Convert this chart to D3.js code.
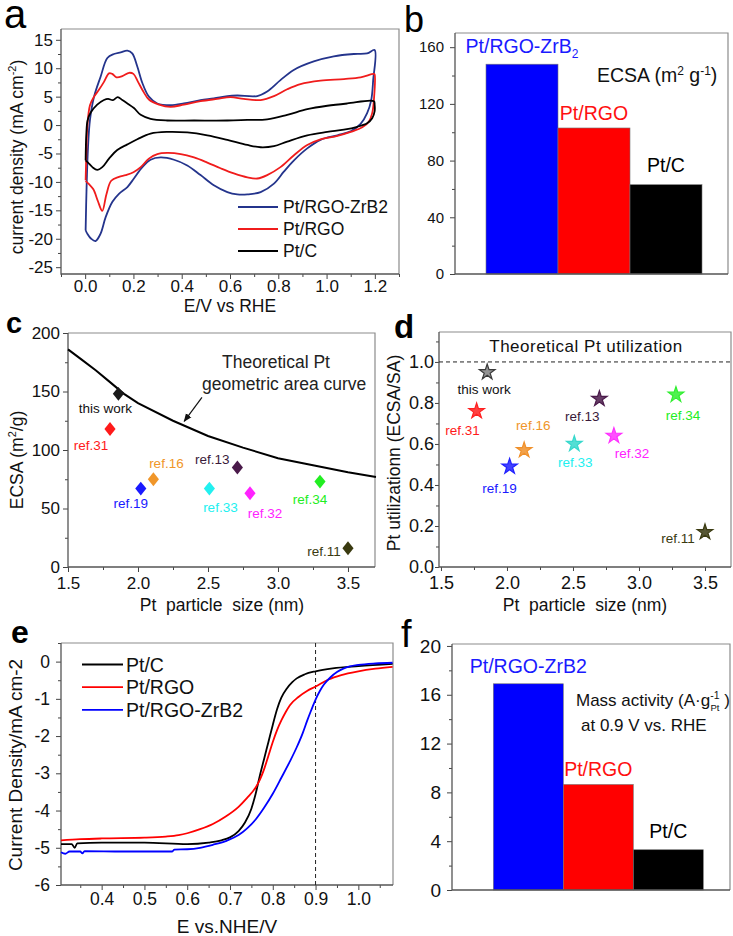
<!DOCTYPE html>
<html><head><meta charset="utf-8">
<script src="https://cdn.jsdelivr.net/npm/d3@7"></script>
<style>html,body{margin:0;padding:0;background:#fff;} svg{display:block;}</style>
</head><body>
<svg id="fig" width="733" height="936"></svg>
<script>
// ================= DATA =================
// (a) cyclic voltammograms: [E (V vs RHE), j (mA cm^-2)] anodic branch then cathodic branch
const cvSeriesNames = ["Pt/RGO-ZrB2", "Pt/RGO", "Pt/C"];
const cvZrB2 = [[0.002,-18.5],[0.006,-10.9],[0.012,-3.8],[0.020,0.9],[0.037,5.0],[0.064,8.5],[0.092,11.8],[0.119,12.5],[0.147,12.8],[0.175,13.1],[0.195,12.6],[0.216,10.3],[0.237,7.4],[0.264,5.0],[0.299,3.8],[0.354,3.5],[0.409,3.8],[0.478,4.4],[0.533,4.7],[0.589,5.1],[0.630,5.2],[0.713,5.1],[0.754,5.9],[0.809,7.9],[0.864,9.7],[0.947,11.2],[1.030,12.1],[1.113,12.5],[1.168,12.6],[1.199,13.2],
  [1.193,7.9],[1.185,4.4],[1.168,2.1],[1.141,0.2],[1.100,-1.1],[1.045,-1.8],[0.975,-2.6],[0.920,-4.1],[0.865,-6.2],[0.823,-8.2],[0.782,-10.3],[0.727,-11.8],[0.672,-12.2],[0.630,-12.2],[0.589,-11.8],[0.533,-10.6],[0.478,-8.8],[0.423,-7.1],[0.368,-6.1],[0.313,-5.7],[0.271,-6.1],[0.237,-7.4],[0.202,-9.4],[0.175,-10.9],[0.140,-12.1],[0.113,-13.5],[0.085,-16.2],[0.064,-19.1],[0.043,-20.4],[0.025,-20.0],[0.009,-19.1],[0.002,-18.5]];
const cvRGO = [[0.002,-9.7],[0.005,-5.0],[0.009,-0.3],[0.020,3.5],[0.037,5.0],[0.057,6.2],[0.078,7.6],[0.099,9.1],[0.112,9.0],[0.130,8.4],[0.154,8.6],[0.182,9.2],[0.200,9.0],[0.219,7.6],[0.241,5.9],[0.264,4.5],[0.306,3.6],[0.354,3.2],[0.409,3.6],[0.478,4.2],[0.547,4.6],[0.602,4.9],[0.657,4.6],[0.727,4.4],[0.782,5.1],[0.837,6.3],[0.892,7.2],[0.975,7.8],[1.072,8.1],[1.141,8.4],[1.196,9.0],
  [1.199,8.9],[1.196,4.4],[1.189,2.1],[1.175,0.6],[1.148,-0.4],[1.100,-1.2],[1.045,-1.9],[0.975,-2.5],[0.920,-3.5],[0.865,-5.3],[0.809,-7.4],[0.754,-8.8],[0.713,-9.4],[0.672,-9.2],[0.616,-8.5],[0.561,-7.6],[0.506,-6.6],[0.451,-5.7],[0.396,-5.1],[0.340,-4.9],[0.299,-5.1],[0.264,-5.9],[0.230,-7.4],[0.200,-8.3],[0.168,-8.8],[0.140,-9.1],[0.108,-9.8],[0.088,-12.2],[0.071,-15.1],[0.053,-13.4],[0.034,-11.3],[0.016,-10.4],[0.002,-9.8]];
const cvPtC = [[0.002,-6.2],[0.005,-1.5],[0.010,0.8],[0.023,2.2],[0.050,3.6],[0.078,4.4],[0.095,4.6],[0.115,4.4],[0.135,4.9],[0.154,4.4],[0.175,3.8],[0.202,3.0],[0.230,1.8],[0.271,1.1],[0.340,0.8],[0.451,0.8],[0.589,0.8],[0.672,0.9],[0.754,1.0],[0.837,1.8],[0.920,2.8],[1.003,3.4],[1.086,3.8],[1.196,4.2],
  [1.199,3.6],[1.199,2.4],[1.189,1.2],[1.168,0.3],[1.127,-0.3],[1.072,-0.8],[1.003,-1.2],[0.920,-1.8],[0.837,-2.9],[0.782,-3.7],[0.727,-3.9],[0.672,-3.5],[0.589,-2.6],[0.506,-1.8],[0.423,-1.3],[0.340,-1.2],[0.271,-1.5],[0.216,-2.5],[0.175,-3.4],[0.133,-4.4],[0.099,-5.9],[0.071,-7.4],[0.050,-7.9],[0.030,-7.4],[0.012,-6.6],[0.002,-6.2]];
const cvXTicks = [0, 0.2, 0.4, 0.6, 0.8, 1.0, 1.2];
const cvYTicks = [-25, -20, -15, -10, -5, 0, 5, 10, 15];

// (b) ECSA bars
const catalysts = ["Pt/RGO-ZrB2", "Pt/RGO", "Pt/C"];
const ecsaValues = [148, 103, 63];
const ecsaTicks = [0, 40, 80, 120, 160];

// (c),(d) literature comparison
const refNames = ["this work", "ref.31", "ref.19", "ref.16", "ref.33", "ref.13", "ref.32", "ref.34", "ref.11"];
const refSizeC = [1.86, 1.80, 2.02, 2.11, 2.51, 2.71, 2.80, 3.30, 3.50];
const refEcsaC = [148, 118, 67, 75, 67, 85, 63, 73, 16];
const theoSize = [1.5, 1.6, 1.7, 1.8, 1.9, 2.0, 2.25, 2.5, 2.75, 3.0, 3.25, 3.5, 3.7];
const theoEcsa = [186, 177, 168, 158, 148, 140, 125, 112, 102, 93, 87, 81, 77];
const sizeTicks = [1.5, 2.0, 2.5, 3.0, 3.5];
const ecsaCTicks = [0, 50, 100, 150, 200];
const refSizeD = [1.85, 1.77, 2.02, 2.13, 2.51, 2.70, 2.81, 3.28, 3.50];
const refUtilD = [0.95, 0.76, 0.49, 0.57, 0.60, 0.82, 0.64, 0.84, 0.17];
const utilTicks = [0.0, 0.2, 0.4, 0.6, 0.8, 1.0];

// (e) ORR polarization curves: [E (V), j (mA cm^-2)]
const lsvSeriesNames = ["Pt/C", "Pt/RGO", "Pt/RGO-ZrB2"];
const lsvPtC = [[0.305,-4.90],[0.33,-4.90],[0.337,-5.0],[0.343,-4.88],[0.40,-4.86],[0.50,-4.86],[0.60,-4.90],[0.65,-4.86],[0.68,-4.80],[0.70,-4.72],[0.72,-4.55],[0.735,-4.32],[0.75,-3.95],[0.76,-3.55],[0.77,-3.05],[0.78,-2.6],[0.79,-2.15],[0.80,-1.7],[0.81,-1.28],[0.82,-0.97],[0.833,-0.72],[0.845,-0.56],[0.856,-0.45],[0.875,-0.34],[0.90,-0.26],[0.94,-0.18],[1.00,-0.12],[1.08,-0.06]];
const lsvRGO = [[0.305,-4.80],[0.35,-4.77],[0.40,-4.75],[0.50,-4.73],[0.55,-4.70],[0.58,-4.66],[0.60,-4.61],[0.63,-4.50],[0.66,-4.36],[0.69,-4.16],[0.72,-3.90],[0.74,-3.66],[0.76,-3.38],[0.77,-3.17],[0.78,-2.88],[0.79,-2.52],[0.80,-2.16],[0.81,-1.84],[0.82,-1.58],[0.83,-1.36],[0.84,-1.17],[0.86,-0.95],[0.88,-0.79],[0.90,-0.67],[0.93,-0.48],[0.96,-0.36],[1.00,-0.26],[1.04,-0.19],[1.08,-0.14]];
const lsvZrB2 = [[0.305,-5.12],[0.315,-5.16],[0.325,-5.10],[0.35,-5.10],[0.355,-5.15],[0.36,-5.09],[0.45,-5.10],[0.565,-5.10],[0.57,-5.05],[0.60,-5.04],[0.63,-5.00],[0.66,-4.92],[0.69,-4.82],[0.72,-4.66],[0.74,-4.48],[0.76,-4.24],[0.78,-3.92],[0.80,-3.55],[0.82,-3.12],[0.84,-2.68],[0.856,-2.30],[0.87,-1.92],[0.88,-1.60],[0.89,-1.30],[0.90,-1.02],[0.91,-0.79],[0.92,-0.61],[0.935,-0.42],[0.95,-0.28],[0.965,-0.19],[0.98,-0.13],[1.00,-0.09],[1.04,-0.05],[1.08,-0.03]];
const lsvXTicks = [0.4, 0.5, 0.6, 0.7, 0.8, 0.9, 1.0];
const lsvYTicks = [-6, -5, -4, -3, -2, -1, 0];
const refPotential = 0.9;

// (f) mass activity bars
const massValues = [16.9, 8.65, 3.3];
const massTicks = [0, 4, 8, 12, 16, 20];

// ================= DRAWING =================
const FONT = "'Liberation Sans', Arial, Helvetica, sans-serif";
const svg = d3.select("#fig").style("font-family", FONT);
svg.append("rect").attr("width", 733).attr("height", 936).attr("fill", "#fff");

function minorBetween(ticks, step) {
  const out = [];
  for (let i = 0; i < ticks.length; i++) out.push(+(ticks[i] + step).toFixed(4));
  out.unshift(+(ticks[0] - step).toFixed(4));
  return out;
}

function frameAxes(o) {
  const g = svg.append("g");
  const [xl, xr] = o.frameX, [yb, yt] = o.frameY;
  g.append("path").attr("d", `M${xl},${yt}H${xr}V${yb}`).attr("fill", "none")
    .attr("stroke", "#8c8c8c").attr("stroke-width", 1.2);
  const tick = o.tick || 5;
  if (o.x) {
    const gx = g.append("g").attr("transform", `translate(0,${yb})`);
    if (o.xMinor) gx.append("g").call(d3.axisBottom(o.x).tickValues(o.xMinor.filter(v => o.x(v) >= xl - 0.5 && o.x(v) <= xr + 0.5)).tickSize(3).tickFormat("")).call(s => s.select(".domain").remove());
    gx.append("g").call(d3.axisBottom(o.x).tickValues(o.xMajor).tickSize(tick).tickPadding(o.xPad).tickFormat(o.xFmt)).call(s => s.select(".domain").remove());
    gx.selectAll("text").attr("font-size", o.fs).attr("font-family", FONT).attr("fill", "#111");
  }
  const gy = g.append("g").attr("transform", `translate(${xl},0)`);
  if (o.yMinor) gy.append("g").call(d3.axisLeft(o.y).tickValues(o.yMinor.filter(v => o.y(v) <= yb + 0.5 && o.y(v) >= yt - 0.5)).tickSize(3).tickFormat("")).call(s => s.select(".domain").remove());
  gy.append("g").call(d3.axisLeft(o.y).tickValues(o.yMajor).tickSize(tick).tickPadding(o.yPad).tickFormat(o.yFmt)).call(s => s.select(".domain").remove());
  gy.selectAll("text").attr("font-size", o.yfs || o.fs).attr("font-family", FONT).attr("fill", "#111");
  g.selectAll(".tick line").attr("stroke", "#444");
  g.append("path").attr("d", `M${xl},${yt}V${yb}H${xr}`).attr("fill", "none").attr("stroke", "#555").attr("stroke-width", 1.3);
  return g;
}

function rich(sel, parts, fs) {
  let cur = 0;
  parts.forEach(p => {
    const shift = p.shift || 0;
    const t = sel.append("tspan").text(p.t).attr("font-size", p.size || fs).attr("dy", shift - cur);
    if (p.dx) t.attr("dx", p.dx);
    cur = shift;
  });
  return sel;
}

function panelLetter(txt, x, y, fs, bold) {
  svg.append("text").attr("x", x).attr("y", y).attr("font-size", fs)
    .attr("font-weight", bold ? "bold" : "normal").attr("fill", "#000").text(txt);
}
const fmt1 = d3.format(".1f");
const fmtInt = d => String(d);

// ---------- (a) ----------
{
  const x = d3.scaleLinear().domain([-0.1, 1.3]).range([61, 399]);
  const y = d3.scaleLinear().domain([-26.2, 16.9]).range([274, 29]);
  frameAxes({ x, y, frameX: [61, 399], frameY: [274, 29], xMajor: cvXTicks, xMinor: minorBetween(cvXTicks, 0.1),
    yMajor: cvYTicks, yMinor: minorBetween(cvYTicks, 2.5), xFmt: fmt1, yFmt: fmtInt, fs: 17, xPad: 1, yPad: 3 });
  const line = d3.line().x(d => x(d[0])).y(d => y(d[1])).curve(d3.curveCatmullRom.alpha(0.5));
  const cols = ["#24348c", "#f01c1c", "#000000"];
  [cvZrB2, cvRGO, cvPtC].forEach((s, i) => {
    svg.append("path").datum(s).attr("d", line).attr("fill", "none").attr("stroke", cols[i]).attr("stroke-width", 1.8);
  });
  cvSeriesNames.forEach((n, i) => {
    const ly = 207 + i * 22;
    svg.append("line").attr("x1", 238).attr("x2", 278).attr("y1", ly).attr("y2", ly).attr("stroke", cols[i]).attr("stroke-width", 1.8);
    svg.append("text").attr("x", 283).attr("y", ly + 6).attr("font-size", 17.5).attr("fill", "#111").text(n);
  });
  svg.append("text").attr("x", 230).attr("y", 312).attr("text-anchor", "middle").attr("font-size", 17.5).attr("fill", "#111").text("E/V vs RHE");
  const yt = svg.append("text").attr("transform", "translate(23,157) rotate(-90)").attr("text-anchor", "middle").attr("font-size", 17.5).attr("fill", "#111");
  rich(yt, [{ t: "current density (mA cm" }, { t: "-2", shift: -7, size: 11 }, { t: ")" }], 17.5);
  panelLetter("a", 4, 28, 40, false);
}

// ---------- (b) ----------
const barColors = ["#0000ff", "#ff0000", "#000000"];
const barTextColors = ["#1a1aff", "#ff1010", "#000000"];
{
  const y = d3.scaleLinear().domain([0, 170]).range([274, 33]);
  const xb = d3.scaleBand().domain(catalysts).range([486, 702]).padding(0);
  svg.append("g").selectAll("rect").data(catalysts).join("rect")
    .attr("x", d => xb(d)).attr("width", xb.bandwidth())
    .attr("y", (d, i) => y(ecsaValues[i])).attr("height", (d, i) => y(0) - y(ecsaValues[i]))
    .attr("fill", (d, i) => barColors[i]).attr("stroke", "#777").attr("stroke-width", 0.6);
  frameAxes({ x: null, y, frameX: [455, 728], frameY: [274, 33], yMajor: ecsaTicks, yMinor: minorBetween(ecsaTicks, 20),
    yFmt: fmtInt, fs: 15, yPad: 6 });
  const offs = [11, 8, 13];
  catalysts.forEach((c, i) => {
    const t = svg.append("text").attr("x", xb(c) + xb.bandwidth() / 2).attr("y", y(ecsaValues[i]) - offs[i])
      .attr("text-anchor", "middle").attr("font-size", 19.5).attr("fill", barTextColors[i]);
    if (i === 0) rich(t, [{ t: "Pt/RGO-ZrB" }, { t: "2", shift: 5, size: 12 }], 19.5);
    else t.text(c);
  });
  const et = svg.append("text").attr("x", 597).attr("y", 82).attr("font-size", 19.5).attr("fill", "#111");
  rich(et, [{ t: "ECSA (m" }, { t: "2", shift: -7, size: 12 }, { t: " g" }, { t: "-1", shift: -7, size: 12 }, { t: ")" }], 19.5);
  panelLetter("b", 404, 32, 36, false);
}

// ---------- (c) ----------
const refColors = ["#1a1a1a", "#ff1a1a", "#1a1aff", "#f0962a", "#22f0f0", "#4a1a4a", "#ff22ff", "#22ee22", "#3a3a10"];
const refTextColors = ["#111111", "#ff1a1a", "#1a1aff", "#f0962a", "#22f0f0", "#3a1a3a", "#ff22ff", "#22ee22", "#3a3a10"];
const diamond = { draw(ctx, size) { const h = Math.sqrt(size) / 2 * 1.1, w = h * 0.8; ctx.moveTo(0, -h); ctx.lineTo(w, 0); ctx.lineTo(0, h); ctx.lineTo(-w, 0); ctx.closePath(); } };
{
  const x = d3.scaleLinear().domain([1.5, 3.693]).range([68, 375]);
  const y = d3.scaleLinear().domain([0, 200]).range([567, 333]);
  frameAxes({ x, y, frameX: [68, 375], frameY: [567, 333], xMajor: sizeTicks, xMinor: minorBetween(sizeTicks, 0.25),
    yMajor: ecsaCTicks, yMinor: minorBetween(ecsaCTicks, 25), xFmt: fmt1, yFmt: fmtInt, fs: 17, xPad: 5, yPad: 3 });
  const pts = theoSize.map((s, i) => [s, theoEcsa[i]]);
  svg.append("path").datum(pts).attr("d", d3.line().x(d => x(d[0])).y(d => y(d[1]))).attr("fill", "none").attr("stroke", "#000").attr("stroke-width", 2);
  refNames.forEach((n, i) => {
    svg.append("path").attr("d", d3.symbol(diamond, 160)()).attr("transform", `translate(${x(refSizeC[i])},${y(refEcsaC[i])})`)
      .attr("fill", refColors[i]);
  });
  const lo = [[-13, 19], [-19, 21], [-10, 19.5], [13, -11], [11, 23], [-25, -4], [15, 25], [-10, 22], [-24, 8]];
  refNames.forEach((n, i) => {
    svg.append("text").attr("x", x(refSizeC[i]) + lo[i][0]).attr("y", y(refEcsaC[i]) + lo[i][1])
      .attr("text-anchor", "middle").attr("font-size", 13.5).attr("fill", refTextColors[i]).text(n);
  });
  svg.append("text").attr("x", x(2.6)).attr("y", y(170)).attr("font-size", 17.5).attr("fill", "#222").text("Theoretical Pt");
  svg.append("text").attr("x", x(2.457)).attr("y", y(151)).attr("font-size", 17.5).attr("fill", "#222").text("geometric area curve");
  const defs = svg.append("defs");
  defs.append("marker").attr("id", "ah").attr("viewBox", "0 0 10 10").attr("refX", 9).attr("refY", 5)
    .attr("markerWidth", 7).attr("markerHeight", 7).attr("orient", "auto")
    .append("path").attr("d", "M0,1 L10,5 L0,9 z").attr("fill", "#111");
  svg.append("line").attr("x1", x(2.457)).attr("y1", y(145)).attr("x2", x(2.33)).attr("y2", y(124.5))
    .attr("stroke", "#111").attr("stroke-width", 1.2).attr("marker-end", "url(#ah)");
  svg.append("text").attr("x", 222).attr("y", 611).attr("text-anchor", "middle").attr("font-size", 17.5).attr("fill", "#111")
    .attr("xml:space", "preserve").text("Pt  particle  size (nm)");
  const yt = svg.append("text").attr("transform", "translate(23,460) rotate(-90)").attr("text-anchor", "middle").attr("font-size", 17.5).attr("fill", "#111");
  rich(yt, [{ t: "ECSA (m" }, { t: "2", shift: -7, size: 11 }, { t: "/g)" }], 17.5);
  panelLetter("c", 6, 333, 29, true);
}

// ---------- (d) ----------
const starColors = ["#3a3a3a", "#ff2020", "#2020ff", "#f0902a", "#36d8cc", "#4a1a4a", "#ff30ff", "#30ee30", "#3a3a10"];
{
  const x = d3.scaleLinear().domain([1.485, 3.697]).range([439, 731]);
  const y = d3.scaleLinear().domain([0, 1.146]).range([567, 332]);
  frameAxes({ x, y, frameX: [439, 731], frameY: [567, 332], xMajor: sizeTicks, xMinor: minorBetween(sizeTicks, 0.25),
    yMajor: utilTicks, yMinor: minorBetween(utilTicks, 0.1), xFmt: fmt1, yFmt: fmt1, fs: 18, xPad: 5, yPad: 1, tick: 4 });
  svg.append("line").attr("x1", 439).attr("x2", 731).attr("y1", y(1.0)).attr("y2", y(1.0))
    .attr("stroke", "#222").attr("stroke-width", 1).attr("stroke-dasharray", "4,3");
  svg.append("text").attr("x", 586).attr("y", 352).attr("text-anchor", "middle").attr("font-size", 17).attr("letter-spacing", 0.5)
    .attr("fill", "#111").text("Theoretical Pt utilization");
  refNames.forEach((n, i) => {
    svg.append("path").attr("d", d3.symbol(d3.symbolStar, 75)()).attr("transform", `translate(${x(refSizeD[i])},${y(refUtilD[i])})`)
      .attr("fill", starColors[i]).attr("fill-opacity", i === 0 ? 0.55 : 0.85).attr("stroke", starColors[i]).attr("stroke-width", 1.2);
  });
  const lo = [[-3, 22], [-14, 24], [-10, 26.5], [9, -20], [1, 23], [-17, 22], [18, 22], [7, 25], [-27, 11]];
  refNames.forEach((n, i) => {
    svg.append("text").attr("x", x(refSizeD[i]) + lo[i][0]).attr("y", y(refUtilD[i]) + lo[i][1])
      .attr("text-anchor", "middle").attr("font-size", 13.5).attr("fill", refTextColors[i]).text(n);
  });
  svg.append("text").attr("x", 585).attr("y", 611).attr("text-anchor", "middle").attr("font-size", 17.5).attr("fill", "#111")
    .attr("xml:space", "preserve").text("Pt  particle  size (nm)");
  svg.append("text").attr("transform", "translate(400,453) rotate(-90)").attr("text-anchor", "middle").attr("font-size", 17.5)
    .attr("fill", "#111").text("Pt utilizationn (ECSA/SA)");
  panelLetter("d", 394, 338, 33, true);
}

// ---------- (e) ----------
{
  const x = d3.scaleLinear().domain([0.305, 1.081]).range([61, 393]);
  const y = d3.scaleLinear().domain([-6, 0.5]).range([885, 643]);
  frameAxes({ x, y, frameX: [61, 393], frameY: [885, 643], xMajor: lsvXTicks, xMinor: minorBetween(lsvXTicks, 0.05),
    yMajor: lsvYTicks, yMinor: minorBetween(lsvYTicks, 0.5), xFmt: fmt1, yFmt: fmtInt, fs: 17.5, xPad: 3, yPad: 6 });
  svg.append("line").attr("x1", x(refPotential)).attr("x2", x(refPotential)).attr("y1", 885).attr("y2", 643)
    .attr("stroke", "#222").attr("stroke-width", 1).attr("stroke-dasharray", "4,3");
  const line = d3.line().x(d => x(d[0])).y(d => y(d[1])).curve(d3.curveMonotoneX);
  const cols = ["#000000", "#ff0000", "#0000ff"];
  [lsvPtC, lsvRGO, lsvZrB2].forEach((s, i) => {
    svg.append("path").datum(s).attr("d", line).attr("fill", "none").attr("stroke", cols[i]).attr("stroke-width", 1.8);
  });
  lsvSeriesNames.forEach((n, i) => {
    const ly = 664.5 + i * 22.7;
    svg.append("line").attr("x1", 82).attr("x2", 123).attr("y1", ly).attr("y2", ly).attr("stroke", cols[i]).attr("stroke-width", 1.8);
    svg.append("text").attr("x", 126).attr("y", ly + 7).attr("font-size", 19.5).attr("fill", "#111").text(n);
  });
  svg.append("text").attr("x", 227).attr("y", 933).attr("text-anchor", "middle").attr("font-size", 19).attr("fill", "#111").text("E vs.NHE/V");
  svg.append("text").attr("transform", "translate(22,765) rotate(-90)").attr("text-anchor", "middle").attr("font-size", 19)
    .attr("fill", "#111").text("Current Density/mA cm-2");
  panelLetter("e", 11, 643, 32, true);
}

// ---------- (f) ----------
{
  const y = d3.scaleLinear().domain([0, 20.16]).range([890, 644]);
  const xb = d3.scaleBand().domain(catalysts).range([493.3, 703.3]).padding(0);
  svg.append("g").selectAll("rect").data(catalysts).join("rect")
    .attr("x", d => xb(d)).attr("width", xb.bandwidth())
    .attr("y", (d, i) => y(massValues[i])).attr("height", (d, i) => y(0) - y(massValues[i]))
    .attr("fill", (d, i) => barColors[i]).attr("stroke", "#777").attr("stroke-width", 0.6);
  frameAxes({ x: null, y, frameX: [452, 730], frameY: [890, 644], yMajor: massTicks, yMinor: minorBetween(massTicks, 2),
    yFmt: fmtInt, fs: 19, yPad: 6 });
  const offs = [11, 8, 12];
  catalysts.forEach((c, i) => {
    svg.append("text").attr("x", xb(c) + xb.bandwidth() / 2).attr("y", y(massValues[i]) - offs[i])
      .attr("text-anchor", "middle").attr("font-size", 19.5).attr("fill", barTextColors[i]).text(c);
  });
  const mt = svg.append("text").attr("x", 576).attr("y", 706).attr("font-size", 17).attr("fill", "#111");
  rich(mt, [{ t: "Mass activity (A·g" }, { t: "-1", shift: -7, size: 10.5 }, { t: "Pt", shift: 5, size: 9.5, dx: -9 }, { t: " )" }], 17);
  svg.append("text").attr("x", 581).attr("y", 731).attr("font-size", 17).attr("fill", "#111").text("at 0.9 V vs. RHE");
  panelLetter("f", 401, 647, 38, false);
}
</script>
</body></html>
